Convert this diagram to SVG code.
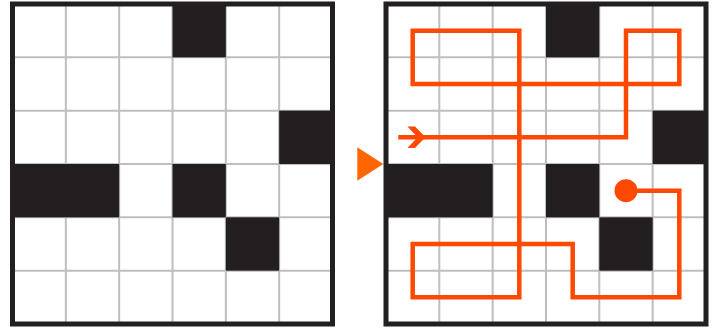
<svg xmlns="http://www.w3.org/2000/svg" width="715" height="330" viewBox="0 0 715 330">
  <style>
    .bg { fill: #ffffff; }
    .grid { stroke: #BCBEC0; stroke-width: 2; fill: none; }
    .cell { fill: #231F20; }
    .border { fill: none; stroke: #231F20; stroke-width: 5; }
    .route { fill: none; stroke: #FF4800; stroke-width: 4.5; stroke-linejoin: miter; }
  </style>
  <defs>
    <g id="board">
      <rect class="bg" x="0" y="0" width="320" height="320"/>
      <path class="grid" d="M53.33 0V320M106.67 0V320M160 0V320M213.33 0V320M266.67 0V320M0 53.33H320M0 106.67H320M0 160H320M0 213.33H320M0 266.67H320"/>
      <rect class="cell" x="160" y="0" width="53.33" height="53.33"/>
      <rect class="cell" x="266.67" y="106.67" width="53.33" height="53.33"/>
      <rect class="cell" x="0" y="160" width="106.67" height="53.33"/>
      <rect class="cell" x="160" y="160" width="53.33" height="53.33"/>
      <rect class="cell" x="213.33" y="213.33" width="53.33" height="53.33"/>
      <rect class="border" x="0" y="0" width="320" height="320"/>
    </g>
  </defs>
  <g id="grid-left">
    <use href="#board" transform="translate(12.5,4)"/>
  </g>
  <g id="grid-right">
    <use href="#board" transform="translate(386,4)"/>
  </g>
  <g id="pointer">
    <polygon points="357.3,147.3 383.3,164 357.3,180.7" fill="#FF6600"/>
  </g>
  <g id="connectors">
    <polyline class="route" points="398.3,137.3 626,137.3 626,30.7 679.3,30.7 679.3,84 412.7,84 412.7,30.7 519.3,30.7 519.3,297.3 412.7,297.3 412.7,244 572.7,244 572.7,297.3 679.3,297.3 679.3,190.7 626,190.7"/>
    <polygon points="407.5,126.5 415,126.5 425.5,137.3 415,148 407.5,148 417.5,137.3" fill="#FF4800"/>
    <circle cx="626" cy="190.7" r="11.5" fill="#FF4800"/>
  </g>
</svg>
